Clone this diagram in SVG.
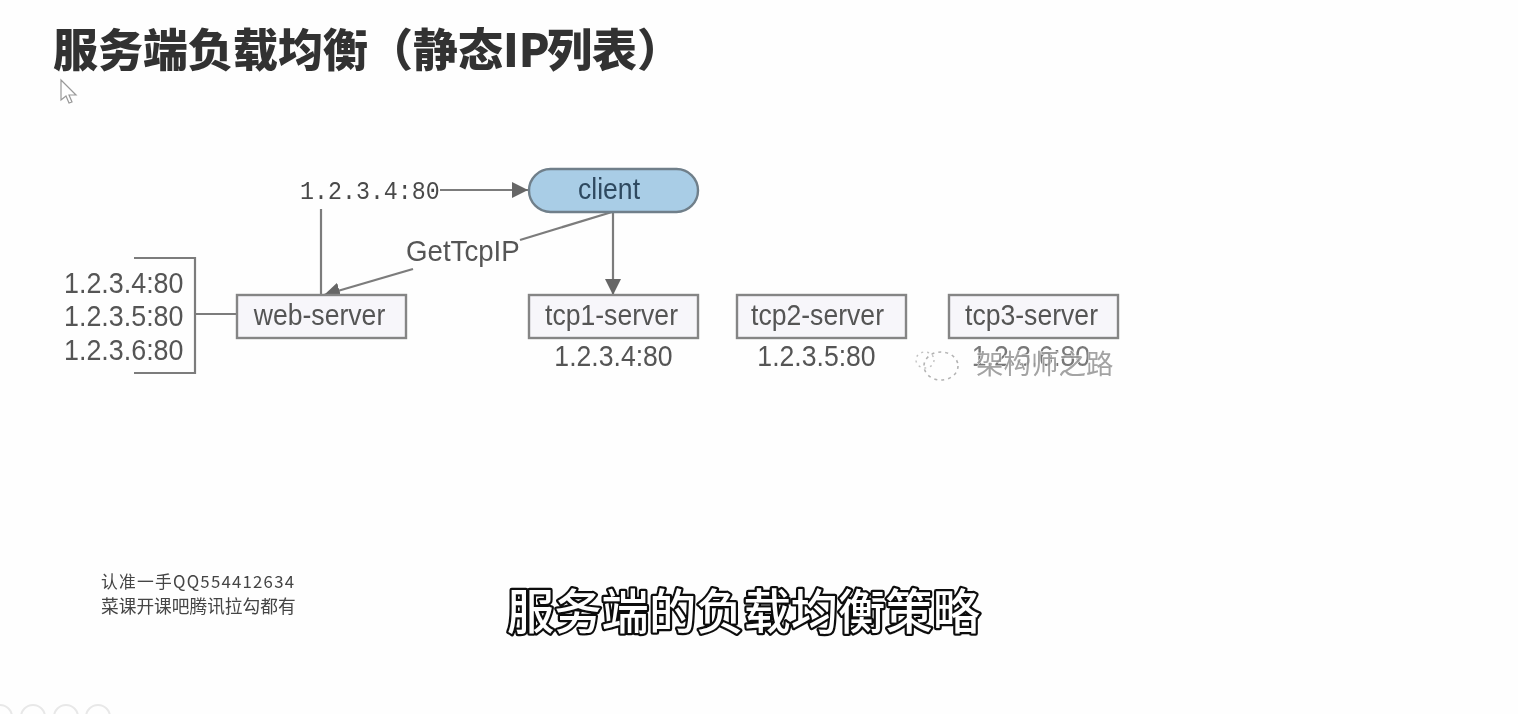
<svg xmlns="http://www.w3.org/2000/svg" width="1518" height="714" viewBox="0 0 1518 714">
<style>
.lat{font-family:"Liberation Sans","Noto Sans CJK SC",sans-serif;font-size:26.6px;fill:#555}
.cjk{font-family:"Noto Sans CJK SC","Liberation Sans",sans-serif}
.box{fill:#f7f6fa;stroke:#858585;stroke-width:2.4}
.line{fill:none;stroke:#7c7c7c;stroke-width:2.2}
.mid{text-anchor:middle}
</style>
<defs>
<marker id="arrow" markerUnits="userSpaceOnUse" markerWidth="18" markerHeight="18" refX="16" refY="9" orient="auto">
<path d="M0 1L16 9L0 17Z" fill="#666"/>
</marker>
<filter id="soft" x="-2%" y="-2%" width="104%" height="104%"><feGaussianBlur stdDeviation="0.7"/></filter>
</defs>
<rect width="1518" height="714" fill="#fefefe"/>
<g filter="url(#soft)">
<text id="title" class="cjk" x="53" y="67" font-size="45" font-weight="900" fill="#333">服务端负载均衡（静态<tspan x="503">IP</tspan><tspan x="547">列表）</tspan></text>
<path id="cursor" d="M61 80V100L66 96L69 103L72 102L69 95H76Z" fill="#fff" stroke="#999" stroke-width="1.2"/>

<g id="connectors">
<path class="line" d="M321 209V295"/>
<path class="line" d="M440 190H528" marker-end="url(#arrow)"/>
<path class="line" d="M613 212V295" marker-end="url(#arrow)"/>
<path class="line" d="M612 212L520 240"/>
<path class="line" d="M413 269L324 295" marker-end="url(#arrow)"/>
<path class="line" d="M134 258H195V373H134"/>
<path class="line" d="M195 314H237"/>
</g>

<g id="client">
<rect x="529" y="169" width="169" height="43" rx="21.5" fill="#a9cde6" stroke="#6f7f8a" stroke-width="2.4"/>
<text class="lat mid" transform="translate(609 199) scale(1 1.13)" style="fill:#2f4a60">client</text>
</g>
<g id="web-server">
<rect class="box" x="237" y="295" width="169" height="43"/>
<text class="lat mid" transform="translate(319.500 325) scale(1 1.13)">web-server</text>
</g>
<g id="tcp1-server">
<rect class="box" x="529" y="295" width="169" height="43"/>
<text class="lat mid" transform="translate(611.500 325) scale(1 1.13)">tcp1-server</text>
<text class="lat mid" transform="translate(613.500 366) scale(1 1.13)">1.2.3.4:80</text>
</g>
<g id="tcp2-server">
<rect class="box" x="737" y="295" width="169" height="43"/>
<text class="lat mid" transform="translate(817.500 325) scale(1 1.13)">tcp2-server</text>
<text class="lat mid" transform="translate(816.500 366) scale(1 1.13)">1.2.3.5:80</text>
</g>
<g id="tcp3-server">
<rect class="box" x="949" y="295" width="169" height="43"/>
<text class="lat mid" transform="translate(1031.500 325) scale(1 1.13)">tcp3-server</text>
<text class="lat mid" transform="translate(1031 366) scale(1 1.13)" opacity=".8">1.2.3.6:80</text>
</g>

<g id="ip-list">
<text class="lat" transform="translate(64 293) scale(1.01 1.13)">1.2.3.4:80</text>
<text class="lat" transform="translate(64 326) scale(1.01 1.13)">1.2.3.5:80</text>
<text class="lat" transform="translate(64 360) scale(1.01 1.13)">1.2.3.6:80</text>
</g>
<text id="vip" transform="translate(300 199) scale(1 1.1)" font-family="'Liberation Mono',monospace" font-size="23.300" fill="#4a4a4a">1.2.3.4:80</text>
<text id="edge-label" class="lat" transform="translate(406 261) scale(1.04 1.13)">GetTcpIP</text>

<g id="watermark" opacity=".9">
<text class="cjk" x="976" y="374" font-size="27.500" fill="#999" stroke="#fff" stroke-width="1" paint-order="stroke">架构师之路</text>
<ellipse cx="941" cy="366" rx="17" ry="14" fill="none" stroke="#aaa" stroke-width="1.600" stroke-dasharray="3 4"/>
<ellipse cx="925" cy="360" rx="9" ry="8" fill="none" stroke="#bbb" stroke-width="1.400" stroke-dasharray="2 4"/>
</g>

<g id="credit" class="cjk" font-size="16.800" fill="#444">
<text x="101" y="588" textLength="193">认准一手QQ554412634</text>
<text x="101" y="613" font-size="17.700">菜课开课吧腾讯拉勾都有</text>
</g>
<text id="caption" class="cjk" x="507" y="629" font-size="47.300" font-weight="500" fill="#fff" stroke="#111" stroke-width="4.500" stroke-linejoin="round" paint-order="stroke">服务端的负载均衡策略</text>
<g id="player-controls" fill="none" stroke="#e8e8e8" stroke-width="2">
<circle cx="0" cy="717" r="12"/><circle cx="33" cy="717" r="12"/><circle cx="66" cy="717" r="12"/><circle cx="98" cy="717" r="12"/>
</g>
</g>
</svg>
